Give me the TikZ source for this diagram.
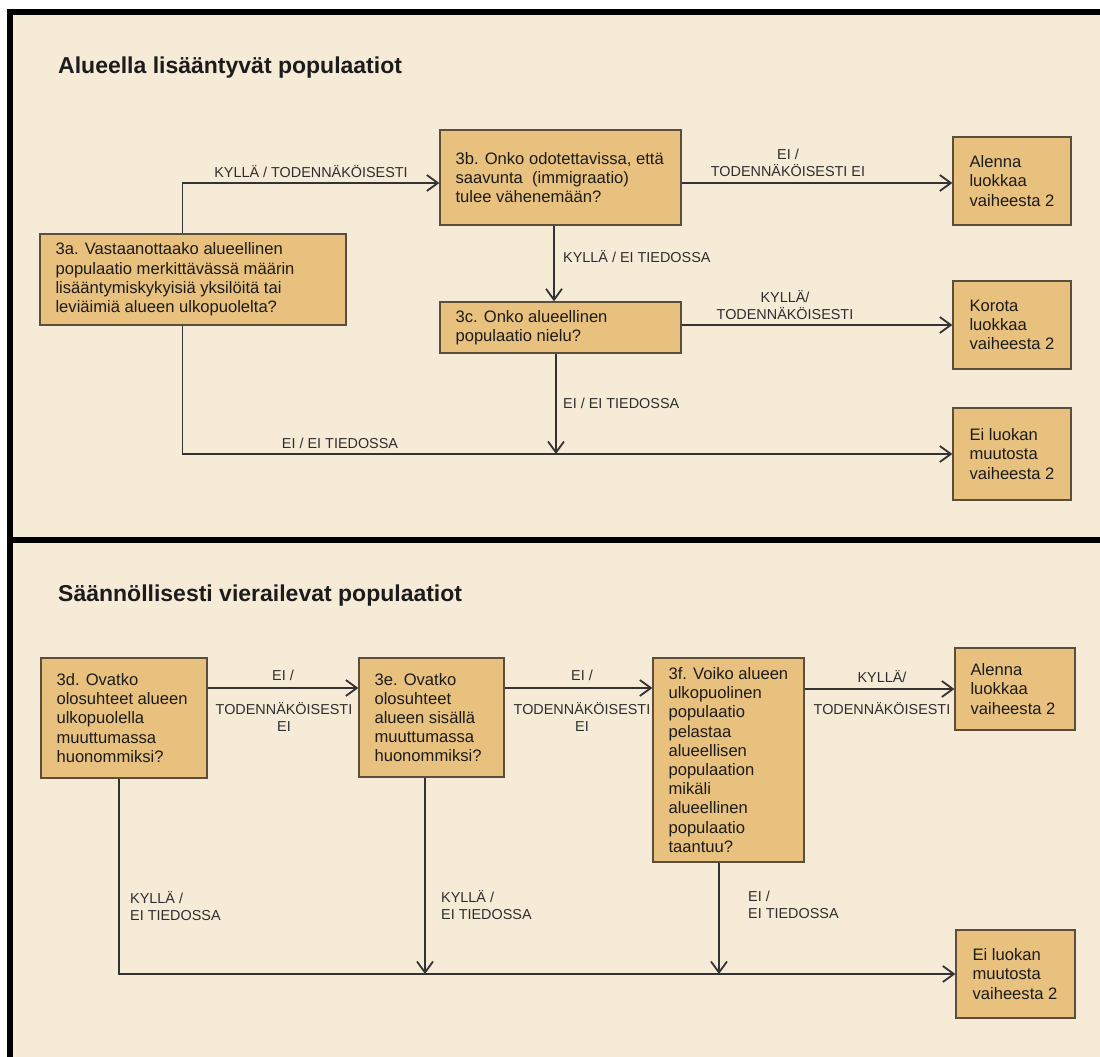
\documentclass[tikz,border=0pt]{standalone}
\usepackage{fontspec}
\setmainfont{Liberation Sans}
\usetikzlibrary{arrows.meta,calc}
\definecolor{bg}{HTML}{F6EBD7}
\definecolor{boxfill}{HTML}{E8C17E}
\definecolor{boxline}{HTML}{5C4D3C}
\definecolor{conncol}{HTML}{333333}
\definecolor{lblcol}{HTML}{2E2E2E}
\definecolor{txtcol}{HTML}{1C1C1C}
\begin{document}
\begin{tikzpicture}[x=1pt,y=-1pt,
  qbox/.style={draw=boxline, fill=boxfill, line width=1.3pt, rectangle, inner sep=0pt},
  btxt/.style={anchor=west, inner sep=0pt, align=left, text=txtcol, font=\fontsize{16.6}{19.2}\selectfont},
  lbl/.style={inner sep=0pt, text=lblcol, font=\fontsize{14.4}{17}\selectfont},
  conn/.style={draw=conncol, line width=1.8pt},
  arr/.style={conn, -{Straight Barb[length=11pt,width=16pt]}},
  ttl/.style={anchor=base west, inner sep=0pt, font=\fontsize{23}{27}\selectfont\bfseries, text=txtcol}
]
\useasboundingbox (0,0) rectangle (1100,1057);
% frame
\fill[white] (0,0) rectangle (1100,1057);
\fill[bg] (10,12) rectangle (1100,1057);
\draw[black, line width=6pt] (7,12) -- (1100,12);
\draw[black, line width=6pt] (10,9) -- (10,1057);
\draw[black, line width=5.5pt] (10,540) -- (1100,540);

% titles
\node[ttl] (t1) at (58,74) {Alueella lisääntyvät populaatiot};
\node[ttl] (t2) at (58,601) {Säännöllisesti vierailevat populaatiot};

% top boxes
\node[qbox, minimum width=306pt, minimum height=91pt] (a) at (193,279.5) {};
\node[qbox, minimum width=241pt, minimum height=95pt] (b) at (560.5,177.5) {};
\node[qbox, minimum width=241pt, minimum height=51pt] (c) at (560.5,327.5) {};
\node[qbox, minimum width=118pt, minimum height=88pt] (r1) at (1012,181) {};
\node[qbox, minimum width=118pt, minimum height=88pt] (r2) at (1012,325) {};
\node[qbox, minimum width=118pt, minimum height=92pt] (r3) at (1012,454) {};

\node[btxt] (ta) at ([xshift=16pt]a.west) {3a. Vastaanottaako alueellinen\\populaatio merkittävässä määrin\\lisääntymiskykyisiä yksilöitä tai\\leviäimiä alueen ulkopuolelta?};
\node[btxt] (tb) at ([xshift=16pt]b.west) {3b. Onko odotettavissa, että\\saavunta~ (immigraatio)\\tulee vähenemään?};
\node[btxt] (tc) at ([xshift=16pt]c.west) {3c. Onko alueellinen\\populaatio nielu?};
\node[btxt] (tr1) at ([xshift=17pt]r1.west) {Alenna\\luokkaa\\vaiheesta 2};
\node[btxt] (tr2) at ([xshift=17pt]r2.west) {Korota\\luokkaa\\vaiheesta 2};
\node[btxt] (tr3) at ([xshift=17pt]r3.west) {Ei luokan\\muutosta\\vaiheesta 2};

% top connectors
\draw[arr] ([xshift=-10.5pt]a.north) |- ([yshift=-2pt]b.west |- r1.west);
\draw[arr] ([yshift=-2pt]b.east |- r1.west) -- ([yshift=-2pt]r1.west);
\draw[arr] ([xshift=-6.5pt]b.south) -- ([xshift=-6.5pt]c.north);
\draw[arr] (c.east |- r2.west) -- (r2.west);
\draw[arr] ([xshift=-10.5pt]a.south) |- (r3.west);
\draw[arr] ([xshift=-4.5pt]c.south) -- ([xshift=-4.5pt]c.south |- r3.west);

% top labels
\node[lbl] (l1) at (311,172) {KYLLÄ / TODENNÄKÖISESTI};
\node[lbl, align=center] (l2) at (788,163) {EI /\\TODENNÄKÖISESTI EI};
\node[lbl, anchor=west] (l3) at (563,257) {KYLLÄ / EI TIEDOSSA};
\node[lbl, align=center] (l4) at (785,305) {KYLLÄ/\\TODENNÄKÖISESTI};
\node[lbl, anchor=west] (l5) at (563,403) {EI / EI TIEDOSSA};
\node[lbl] (l6) at (340,443) {EI / EI TIEDOSSA};

% bottom boxes
\node[qbox, minimum width=166pt, minimum height=120pt] (d) at (124,718) {};
\node[qbox, minimum width=145pt, minimum height=119pt] (e) at (431.5,717.5) {};
\node[qbox, minimum width=151pt, minimum height=204pt] (f) at (728.5,760) {};
\node[qbox, minimum width=120pt, minimum height=82pt] (s1) at (1015,689) {};
\node[qbox, minimum width=119pt, minimum height=88pt] (s2) at (1015.5,974) {};

\node[btxt] (td) at ([xshift=16pt]d.west) {3d. Ovatko\\olosuhteet alueen\\ulkopuolella\\muuttumassa\\huonommiksi?};
\node[btxt] (te) at ([xshift=16pt]e.west) {3e. Ovatko\\olosuhteet\\alueen sisällä\\muuttumassa\\huonommiksi?};
\node[btxt] (tf) at ([xshift=16pt]f.west) {3f. Voiko alueen\\ulkopuolinen\\populaatio\\pelastaa\\alueellisen\\populaation\\mikäli\\alueellinen\\populaatio\\taantuu?};
\node[btxt] (ts1) at ([xshift=16pt]s1.west) {Alenna\\luokkaa\\vaiheesta 2};
\node[btxt] (ts2) at ([xshift=17pt]s2.west) {Ei luokan\\muutosta\\vaiheesta 2};

% bottom connectors
\coordinate (ry) at (0,688);
\draw[arr] (d.east |- ry) -- (e.west |- ry);
\draw[arr] (e.east |- ry) -- (f.west |- ry);
\draw[arr] (f.east |- s1.west) -- (s1.west);
\draw[arr] ([xshift=-5pt]d.south) |- (s2.west);
\draw[arr] ([xshift=-6.5pt]e.south) -- ([xshift=-6.5pt]e.south |- s2.west);
\draw[arr] ([xshift=-9.5pt]f.south) -- ([xshift=-9.5pt]f.south |- s2.west);

% bottom labels
\node[lbl] (m1) at (283,675) {EI /};
\node[lbl, align=center] (m2) at (284,717) {TODENNÄKÖISESTI\\EI};
\node[lbl] (m3) at (582,675) {EI /};
\node[lbl, align=center] (m4) at (582,717) {TODENNÄKÖISESTI\\EI};
\node[lbl] (m5) at (882,677) {KYLLÄ/};
\node[lbl] (m6) at (882,709) {TODENNÄKÖISESTI};
\node[lbl, align=left, anchor=west] (m7) at (130,906) {KYLLÄ /\\EI TIEDOSSA};
\node[lbl, align=left, anchor=west] (m8) at (441,905) {KYLLÄ /\\EI TIEDOSSA};
\node[lbl, align=left, anchor=west] (m9) at (748,905) {EI /\\EI TIEDOSSA};
\end{tikzpicture}
\end{document}
